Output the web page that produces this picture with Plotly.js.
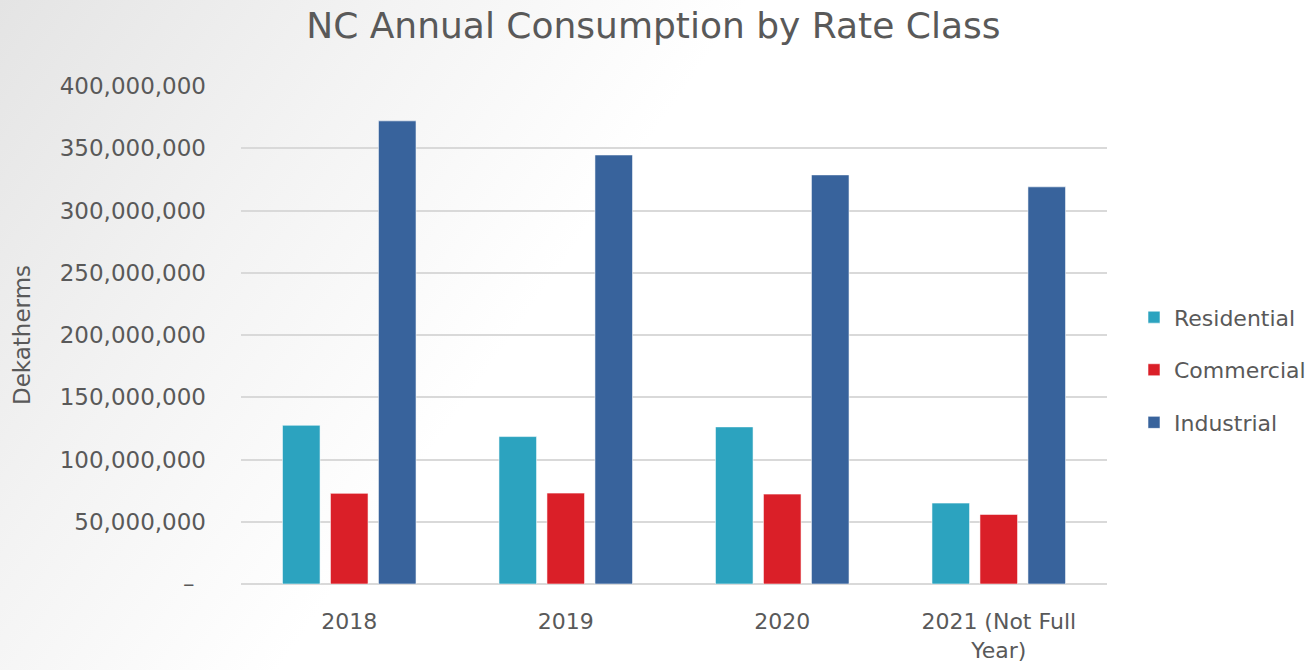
<!DOCTYPE html>
<html>
<head>
<meta charset="utf-8">
<script src="https://cdn.plot.ly/plotly-3.0.1.min.js"></script>
<style>
  html, body { margin: 0; padding: 0; }
  #chart {
    width: 1312px; height: 670px;
    background: linear-gradient(125deg, #e4e4e4 0%, #f3f3f3 22%, #ffffff 42%, #ffffff 100%);
  }
</style>
</head>
<body>
<div id="chart"></div>
<script>
const categories = ["2018", "2019", "2020", "2021 (Not Full<br>Year)"];
const residential = [127500000, 118400000, 126200000, 65000000];
const commercial  = [72800000, 73000000, 72200000, 55900000];
const industrial  = [372000000, 344600000, 328600000, 319000000];
const seriesNames = ["Residential", "Commercial", "Industrial"];
const tickVals = [0, 50000000, 100000000, 150000000, 200000000, 250000000, 300000000, 350000000, 400000000];
const tickText = ["–\u2002", "50,000,000", "100,000,000", "150,000,000", "200,000,000", "250,000,000", "300,000,000", "350,000,000", "400,000,000"];

const colors = ["#2CA3BF", "#DA1F28", "#38639C"];
const values = [residential, commercial, industrial];
const textColor = "#595959";
const fontFam = "DejaVu Sans, Verdana, sans-serif";

const traces = values.map((v, i) => ({
  type: "bar",
  name: seriesNames[i],
  x: categories,
  y: v,
  legendgroup: "g" + i,
  marker: { color: colors[i], line: { color: "rgba(255,255,255,0.55)", width: 1 } },
  hoverinfo: "none"
}));

// plot area: x 241..1107 px of a 1071 px wide region (margin r = 0)
const layout = {
  width: 1312, height: 670,
  paper_bgcolor: "rgba(0,0,0,0)",
  plot_bgcolor: "rgba(0,0,0,0)",
  margin: { l: 241, r: 0, t: 86, b: 86 },
  barmode: "group",
  bargap: 0.335,
  bargroupgap: 0.217,
  title: {
    text: "NC Annual Consumption by Rate Class",
    font: { family: fontFam, size: 36, color: textColor },
    x: 0.498, xanchor: "center", xref: "container",
    y: 0.962, yanchor: "middle"
  },
  font: { family: fontFam, color: textColor },
  xaxis: {
    type: "category",
    domain: [0, 866 / 1071],
    tickfont: { family: fontFam, size: 22, color: textColor },
    showgrid: false, zeroline: false, showline: false,
    ticks: "", ticklabelstandoff: 22
  },
  yaxis: {
    range: [0, 400000000],
    tickvals: tickVals, ticktext: tickText,
    tickfont: { family: fontFam, size: 23, color: textColor },
    showgrid: true, gridcolor: "#d9d9d9", gridwidth: 2,
    zeroline: true, zerolinecolor: "#d9d9d9", zerolinewidth: 2,
    showline: false, ticks: "", ticklabelstandoff: 34,
    title: { text: "Dekatherms", font: { family: fontFam, size: 23, color: textColor }, standoff: 22 }
  },
  showlegend: true,
  legend: {
    x: (1134 - 241) / 1071, xanchor: "left", y: 0.43, yanchor: "middle",
    traceorder: "grouped", tracegroupgap: 21,
    font: { family: fontFam, size: 22, color: textColor },
    bgcolor: "rgba(0,0,0,0)"
  }
};

Plotly.newPlot("chart", traces, layout, { displayModeBar: false, staticPlot: true });
</script>
</body>
</html>
